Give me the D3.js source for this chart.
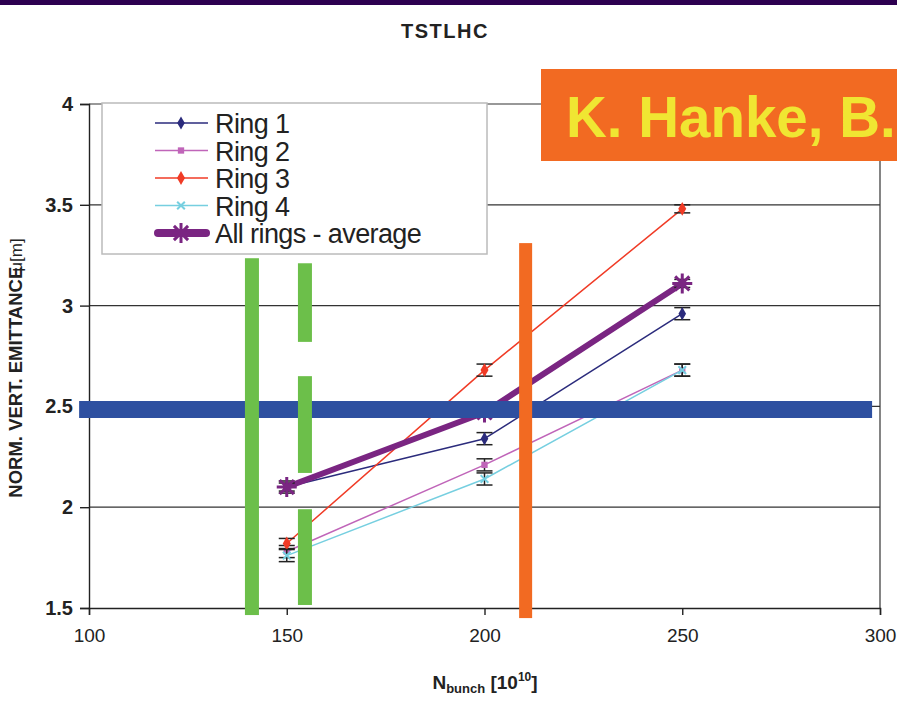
<!DOCTYPE html>
<html>
<head>
<meta charset="utf-8">
<script src="https://cdn.jsdelivr.net/npm/d3@7"></script>
<style>
  body { margin: 0; background: #fff; }
  svg { display: block; font-family: "Liberation Sans", Arial, sans-serif; }
</style>
</head>
<body>
<svg id="chart" width="897" height="701"></svg>
<script>
// data
const bunches = [150, 200, 250]
const ring1 = [2.10, 2.34, 2.96]
const ring2 = [1.78, 2.21, 2.68]
const ring3 = [1.82, 2.68, 3.48]
const ring4 = [1.76, 2.14, 2.68]
const average = [2.10, 2.47, 3.11]
const err1 = [0.03, 0.03, 0.03]
const err2 = [0.03, 0.03, 0.03]
const err3 = [0.025, 0.03, 0.02]
const err4 = [0.03, 0.03, 0.03]
const errAvg = [0.02, 0.02, 0.02]
const seriesNames = ["Ring 1", "Ring 2", "Ring 3", "Ring 4", "All rings - average"]
const xTicks = [100, 150, 200, 250, 300]
const yTicks = [1.5, 2, 2.5, 3, 3.5, 4]

// annotation bars drawn over the chart (data units)
const blueLevel = 2.485
const blueRange = [97.5, 298]
const greenBar1 = { x: 141.2, segs: [[1.465, 3.235]] }
const greenBar2 = { x: 154.6, segs: [[2.82, 3.21], [2.17, 2.65], [1.515, 1.99]] }
const orangeBar = { x: 210.4, segs: [[1.45, 3.31]] }

const svg = d3.select("#chart")
const x = d3.scaleLinear().domain([100, 300]).range([89, 880])
const y = d3.scaleLinear().domain([1.5, 4]).range([608, 104])

const series = [
    { name: seriesNames[0], vals: ring1, err: err1, color: "#2b2b7c", width: 1.5, marker: "diamond" },
    { name: seriesNames[1], vals: ring2, err: err2, color: "#c065b9", width: 1.5, marker: "square" },
    { name: seriesNames[2], vals: ring3, err: err3, color: "#f03b26", width: 1.5, marker: "circle" },
    { name: seriesNames[3], vals: ring4, err: err4, color: "#76cfe0", width: 1.5, marker: "cross" },
    { name: seriesNames[4], vals: average, err: errAvg, color: "#7a2582", width: 6, marker: "star" }
]

// top band + title
svg.append("rect").attr("x", 0).attr("y", 0).attr("width", 897).attr("height", 5).attr("fill", "#2d0050")
svg.append("text").attr("x", 445).attr("y", 38).attr("text-anchor", "middle")
    .style("font-weight", "bold").style("font-size", "20px").style("letter-spacing", "1.5px").attr("fill", "#222")
    .text("TSTLHC")

// gridlines
svg.append("g").selectAll("line").data(yTicks.filter(d => d > 1.5)).enter().append("line")
    .attr("x1", x(100)).attr("x2", x(300))
    .attr("y1", d => y(d)).attr("y2", d => y(d))
    .attr("stroke", "#333").attr("stroke-width", 1.2)
svg.append("line").attr("x1", x(300)).attr("x2", x(300)).attr("y1", y(4)).attr("y2", y(1.5))
    .attr("stroke", "#333").attr("stroke-width", 1.2)

// axes
const yAxis = svg.append("g").attr("transform", "translate(" + x(100) + ",0)")
    .call(d3.axisLeft(y).tickValues(yTicks).tickSize(9).tickPadding(7).tickFormat(d3.format("")))
yAxis.selectAll("text").style("font-size", "20px").style("font-weight", "bold").attr("fill", "#222")
const xAxis = svg.append("g").attr("transform", "translate(0," + y(1.5) + ")")
    .call(d3.axisBottom(x).tickValues(xTicks).tickSize(7).tickPadding(14))
xAxis.selectAll("text").style("font-size", "19px").attr("fill", "#222")
svg.selectAll(".domain, .tick line").attr("stroke", "#222").attr("stroke-width", 1.4)

// axis titles
svg.append("text").attr("transform", "translate(22,368) rotate(-90)").attr("text-anchor", "middle")
    .style("font-size", "18.5px").style("font-weight", "bold").attr("fill", "#222")
    .text("NORM. VERT. EMITTANCE")
    .append("tspan").attr("dx", -5).style("font-weight", "normal").style("font-size", "17px").text("μ[m]")
const xt = svg.append("text").attr("x", 485).attr("y", 689).attr("text-anchor", "middle")
    .style("font-size", "19px").style("font-weight", "bold").attr("fill", "#222")
xt.append("tspan").text("N")
xt.append("tspan").attr("dy", 4).style("font-size", "13px").text("bunch")
xt.append("tspan").attr("dy", -4).text(" [10")
xt.append("tspan").attr("dy", -8).style("font-size", "12px").text("10")
xt.append("tspan").attr("dy", 8).text("]")

function drawMarker(g, type, color, cx, cy) {
    if (type === "diamond") {
        g.append("path").attr("d", d3.symbol(d3.symbolDiamond, 50)()).attr("transform", "translate(" + cx + "," + cy + ")").attr("fill", color)
    } else if (type === "square") {
        g.append("path").attr("d", d3.symbol(d3.symbolSquare, 40)()).attr("transform", "translate(" + cx + "," + cy + ")").attr("fill", color)
    } else if (type === "circle") {
        g.append("path").attr("d", d3.symbol(d3.symbolDiamond, 55)()).attr("transform", "translate(" + cx + "," + cy + ")").attr("fill", color)
    } else if (type === "cross") {
        g.append("path").attr("d", d3.symbol(d3.symbolX, 40)()).attr("transform", "translate(" + cx + "," + cy + ")")
            .attr("fill", "none").attr("stroke", color).attr("stroke-width", 2)
    } else if (type === "star") {
        const r = 10
        let p = ""
        for (let k = 0; k < 4; k++) {
            const a = k * Math.PI / 4
            p += "M" + (-r * Math.cos(a)) + "," + (-r * Math.sin(a)) + "L" + (r * Math.cos(a)) + "," + (r * Math.sin(a))
        }
        g.append("path").attr("d", p).attr("transform", "translate(" + cx + "," + cy + ")")
            .attr("stroke", color).attr("stroke-width", 3).attr("fill", "none")
    }
}

// legend
const lg = svg.append("g")
lg.append("rect").attr("x", 102).attr("y", 103).attr("width", 385).attr("height", 151)
    .attr("fill", "#fff").attr("stroke", "#bbb").attr("stroke-width", 1.5)
series.forEach((s, i) => {
    const ly = 123 + i * 27.5
    lg.append("line").attr("x1", s.width > 3 ? 158 : 155).attr("x2", s.width > 3 ? 206 : 208)
        .attr("y1", ly).attr("y2", ly).attr("stroke", s.color).attr("stroke-width", s.width > 3 ? 8 : 1.5)
        .attr("stroke-linecap", s.width > 3 ? "round" : "butt")
    drawMarker(lg, s.marker, s.color, 181, ly)
    lg.append("text").attr("x", 215).attr("y", ly + 10).style("font-size", "27px")
        .style("letter-spacing", "-0.6px").attr("fill", "#222").text(s.name)
})

// series lines, error bars and markers
const line = d3.line().x((d, i) => x(bunches[i])).y(d => y(d))
series.forEach(s => {
    const g = svg.append("g")
    g.append("path").datum(s.vals).attr("d", line).attr("fill", "none")
        .attr("stroke", s.color).attr("stroke-width", s.width).attr("stroke-linejoin", "round")
    s.vals.forEach((v, i) => {
        const cx = x(bunches[i])
        const e = g.append("g").attr("stroke", "#222").attr("stroke-width", 1.5)
        e.append("line").attr("x1", cx).attr("x2", cx).attr("y1", y(v + s.err[i])).attr("y2", y(v - s.err[i]))
        e.append("line").attr("x1", cx - 8).attr("x2", cx + 8).attr("y1", y(v + s.err[i])).attr("y2", y(v + s.err[i]))
        e.append("line").attr("x1", cx - 8).attr("x2", cx + 8).attr("y1", y(v - s.err[i])).attr("y2", y(v - s.err[i]))
        drawMarker(g, s.marker, s.color, cx, y(v))
    })
})

// annotation overlays
svg.append("line").attr("x1", x(blueRange[0])).attr("x2", x(blueRange[1]))
    .attr("y1", y(blueLevel)).attr("y2", y(blueLevel)).attr("stroke", "#2e50a0").attr("stroke-width", 17)
function drawBar(bar, color, w) {
    bar.segs.forEach(sg => {
        svg.append("rect").attr("x", x(bar.x) - w / 2).attr("width", w)
            .attr("y", y(sg[1])).attr("height", y(sg[0]) - y(sg[1])).attr("fill", color)
    })
}
drawBar(greenBar1, "#6cbf4a", 14)
drawBar(greenBar2, "#6cbf4a", 14)
drawBar(orangeBar, "#f26a22", 13)

// name box top right
svg.append("rect").attr("x", 541).attr("y", 69).attr("width", 360).attr("height", 92).attr("fill", "#f26a22")
svg.append("text").attr("x", 566).attr("y", 137).style("font-size", "56.5px").style("font-weight", "bold")
    .attr("fill", "#f0e632").text("K. Hanke, B.")
</script>
</body>
</html>
